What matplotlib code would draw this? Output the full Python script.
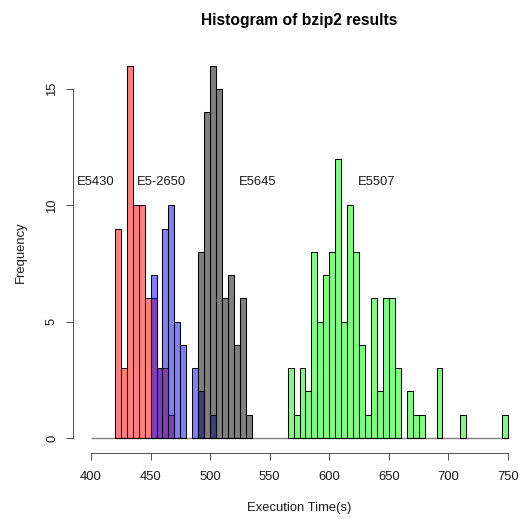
import matplotlib
matplotlib.use('Agg')
import matplotlib.pyplot as plt
import matplotlib.transforms as mtransforms
import numpy as np

plt.rcParams['font.family'] = ['Liberation Sans', 'DejaVu Sans']

# ---- data (bin width 5 s) ----
bin_width = 5
e5430_start = 420
e5430_counts = [9, 3, 16, 10, 10, 6, 6, 3, 3, 1]
e52650_start = 450
e52650_counts = [7, 3, 9, 10, 5, 4, 0, 3, 2, 0, 1]
e5645_start = 490
e5645_counts = [8, 14, 16, 15, 6, 7, 4, 6, 1]
e5507_start = 565
e5507_counts = [3, 1, 3, 2, 8, 5, 7, 8, 12, 5, 10, 8, 4, 1, 6, 2, 6, 6, 3, 0,
                2, 1, 1, 0, 0, 3, 0, 0, 0, 1, 0, 0, 0, 0, 0, 0, 1]

series_names = ['E5430', 'E5-2650', 'E5645', 'E5507']
label_x = [404, 459, 540, 640]
label_y = [11, 11, 11, 11]
x_ticks = [400, 450, 500, 550, 600, 650, 700, 750]
y_ticks = [0, 5, 10, 15]
title = 'Histogram of bzip2 results'
xlabel = 'Execution Time(s)'
ylabel = 'Frequency'

# ---- figure ----
W, H = 520, 519
fig = plt.figure(figsize=(W / 100, H / 100), dpi=100)
left_px, right_px, top_px, bot_px = 73.3, 520.0, 50.8, 452.9
ax = fig.add_axes([left_px / W, (H - bot_px) / H,
                   (right_px - left_px) / W, (bot_px - top_px) / H])
ax.set_facecolor('none')

ppu = (508 - 91) / 350.0
ax.set_xlim(400 - (91 - left_px) / ppu, 400 + (right_px - 91) / ppu)
ax.set_ylim(-0.64, 16.64)

ax.hlines(0, 400, 750, color='#808080', lw=1.0, zorder=1)

def draw(start, counts, color):
    counts = np.asarray(counts, dtype=float)
    edges = start + bin_width * np.arange(len(counts))
    m = counts > 0
    ax.bar(edges[m], counts[m], width=bin_width, align='edge',
           color=color, edgecolor='black', linewidth=0.75, zorder=2)

draw(e5430_start, e5430_counts, (1, 0, 0, 0.5))
draw(e52650_start, e52650_counts, (0, 0, 1, 0.5))
draw(e5645_start, e5645_counts, (0, 0, 0, 0.5))
draw(e5507_start, e5507_counts, (0, 1, 0, 0.5))

fs = 9.36
txt_col = '#1a1a1a'
for name, x, y in zip(series_names, label_x, label_y):
    ax.text(x, y, name, ha='center', va='center', fontsize=fs, color=txt_col)

axis_col = '#555555'
for s in ['top', 'right']:
    ax.spines[s].set_visible(False)
ax.spines['left'].set_bounds(0, 15)
ax.spines['bottom'].set_bounds(400, 750)
for s in ['left', 'bottom']:
    ax.spines[s].set_color(axis_col)
    ax.spines[s].set_linewidth(0.75)

ax.set_xticks(x_ticks)
ax.set_xticklabels([])
ax.set_yticks(y_ticks)
ax.set_yticklabels([])
ax.tick_params(direction='out', length=5.2, width=0.75, color=axis_col)

tx = mtransforms.blended_transform_factory(ax.transData, fig.transFigure)
for v in x_ticks:
    fig.text(v, 1 - 477.5 / H, str(v), transform=tx, ha='center',
             va='center', fontsize=fs, color=txt_col)
ty = mtransforms.blended_transform_factory(fig.transFigure, ax.transData)
for v in y_ticks:
    fig.text(52 / W, v, str(v), transform=ty, ha='center', va='center',
             rotation=90, fontsize=fs, color=txt_col)

fig.text(299 / W, 1 - 20 / H, title, ha='center', va='center',
         fontsize=11.23, fontweight='bold', color='black')
fig.text(299.5 / W, 1 - 508 / H, xlabel, ha='center', va='center',
         fontsize=fs, color=txt_col)
fig.text(20.5 / W, 1 - 252 / H, ylabel, ha='center', va='center',
         fontsize=fs, rotation=90, color=txt_col)

fig.savefig('out.png', dpi=100, facecolor='white')
